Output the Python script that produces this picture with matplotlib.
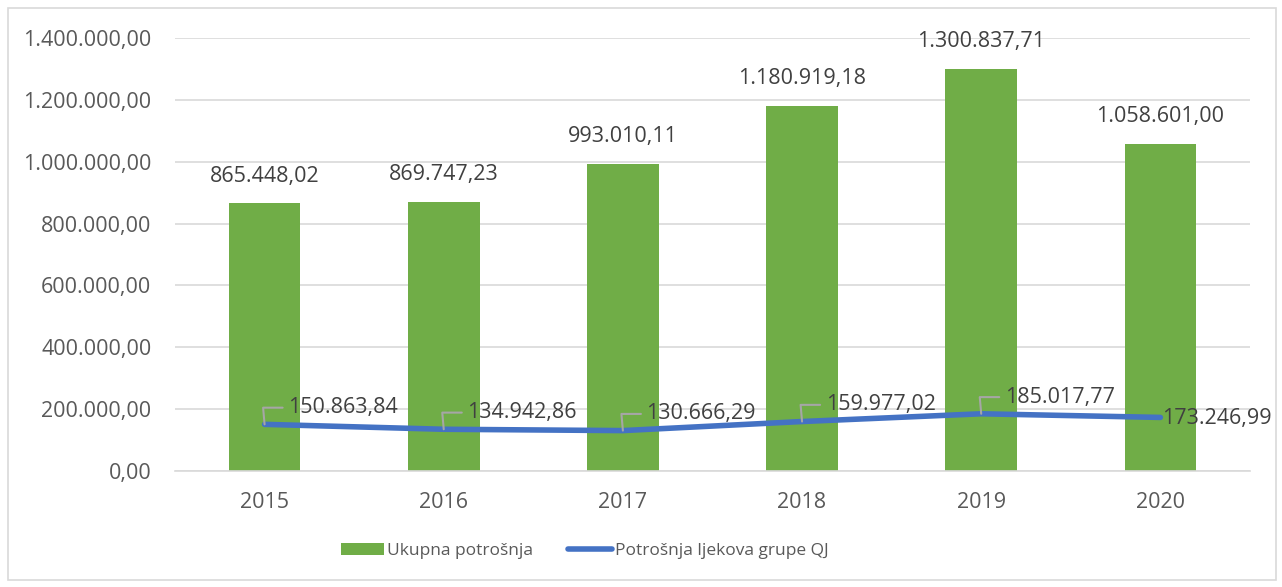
import matplotlib.pyplot as plt
from matplotlib.patches import Rectangle
import numpy as np

plt.rcParams['font.family'] = ['Open Sans', 'DejaVu Sans']

years = ['2015', '2016', '2017', '2018', '2019', '2020']
ukupna = [865448.02, 869747.23, 993010.11, 1180919.18, 1300837.71, 1058601.00]
qj = [150863.84, 134942.86, 130666.29, 159977.02, 185017.77, 173246.99]
yticks = [0, 200000, 400000, 600000, 800000, 1000000, 1200000, 1400000]


def fmt(v):
    # european style: 1.234.567,89
    s = '{:,.2f}'.format(v)
    return s.replace(',', 'X').replace('.', ',').replace('X', '.')


fs = 15.5
fig = plt.figure(figsize=(12.82, 5.87), dpi=100)
ax = fig.add_axes([0.1365, 0.1976, 0.8385, 0.7377])

x = np.arange(len(years))
bars = ax.bar(x, ukupna, width=0.4, color='#70AD47', zorder=2, label='Ukupna potrošnja')
line, = ax.plot(x, qj, color='#4472C4', linewidth=4, solid_capstyle='round', zorder=3,
                label='Potrošnja ljekova grupe QJ')

for xi, v in zip(x, ukupna):
    ax.annotate(fmt(v), (xi, v), xytext=(0, 12), textcoords='offset points',
                ha='center', va='bottom', fontsize=fs, color='#404040')

for i, v in enumerate(qj):
    if i == len(qj) - 1:
        ax.annotate(fmt(v), (x[i], v), xytext=(1, -1), textcoords='offset points',
                    ha='left', va='center', fontsize=fs, color='#404040', zorder=4)
    else:
        ax.annotate(fmt(v), (x[i], v), xytext=(17, 12), textcoords='offset points',
                    ha='left', va='center', fontsize=fs, color='#404040', zorder=4,
                    arrowprops=dict(arrowstyle='-', color='#a6a6a6', lw=1.5,
                                    shrinkA=2, shrinkB=0,
                                    connectionstyle='angle,angleA=0,angleB=95,rad=0'))

ax.set_xlim(-0.5, len(years) - 0.5)
ax.set_ylim(0, 1400000)
ax.set_xticks(x)
ax.set_xticklabels(years)
ax.set_yticks(yticks)
ax.set_yticklabels([fmt(t) for t in yticks])
ax.tick_params(axis='both', length=0, labelsize=fs, colors='#595959')
ax.tick_params(axis='y', pad=17)
ax.tick_params(axis='x', pad=15)
ax.grid(axis='y', color='#d9d9d9', linewidth=1.2, zorder=0)
for side in ['top', 'right', 'left']:
    ax.spines[side].set_visible(False)
ax.spines['bottom'].set_color('#d9d9d9')
ax.spines['bottom'].set_linewidth(1.2)

leg = fig.legend([bars, line], ['Ukupna potrošnja', 'Potrošnja ljekova grupe QJ'],
                 loc='center', bbox_to_anchor=(0.456, 0.062), ncol=2, frameon=False,
                 fontsize=12.5, handlelength=2.5, handletextpad=0.2, columnspacing=2.0)
for t in leg.get_texts():
    t.set_color('#595959')

fig.patches.append(Rectangle((0.006, 0.012), 0.989, 0.975, transform=fig.transFigure,
                             fill=False, edgecolor='#d9d9d9', linewidth=1.2))

fig.savefig('out.png', dpi=100)
